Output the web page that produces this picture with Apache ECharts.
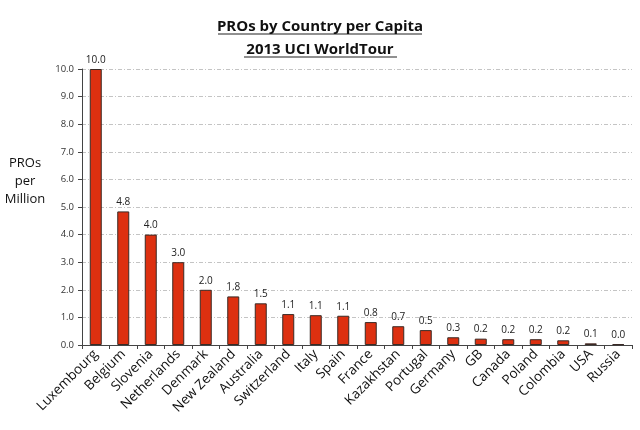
<!DOCTYPE html>
<html>
<head>
<meta charset="utf-8">
<script src="https://cdn.jsdelivr.net/npm/echarts@6/dist/echarts.min.js"></script>
<style>
  html, body { margin: 0; padding: 0; background: #fff; }
  #main { width: 640px; height: 430px; }
</style>
</head>
<body>
<div id="main"></div>
<script>
// countries, sorted by pros per million
const countries = ['Luxembourg', 'Belgium', 'Slovenia', 'Netherlands', 'Denmark', 'New Zealand',
  'Australia', 'Switzerland', 'Italy', 'Spain', 'France', 'Kazakhstan', 'Portugal', 'Germany',
  'GB', 'Canada', 'Poland', 'Colombia', 'USA', 'Russia'];
const prosPerMillion = [10.0, 4.84, 4.0, 3.0, 2.0, 1.76, 1.51, 1.12, 1.08, 1.06, 0.83, 0.68,
  0.54, 0.28, 0.23, 0.21, 0.21, 0.17, 0.06, 0.03];
const yTicks = { min: 0, max: 10, interval: 1 };

const font = '"Open Sans", "Liberation Sans", sans-serif';

let option = {
  animation: false,
  backgroundColor: '#fff',
  title: {
    text: 'PROs by Country per Capita\n2013 UCI WorldTour',
    left: 'center',
    top: 10,
    textStyle: {
      fontFamily: font,
      fontSize: 15,
      fontWeight: 'bold',
      color: '#111',
      lineHeight: 23
    }
  },
  graphic: [
    { type: 'line', shape: { x1: 218, y1: 34, x2: 422, y2: 34 }, style: { stroke: '#222', lineWidth: 1.2 } },
    { type: 'line', shape: { x1: 244, y1: 57, x2: 397, y2: 57 }, style: { stroke: '#222', lineWidth: 1.2 } },
    {
      type: 'text', x: 25, y: 154,
      style: { text: 'PROs\nper\nMillion', fontFamily: font, fontSize: 13, fill: '#111',
        align: 'center', lineHeight: 18 }
    }
  ],
  grid: { left: 82, right: 8, top: 69, bottom: 85 },
  xAxis: {
    type: 'category',
    data: countries,
    axisLine: { lineStyle: { color: '#444' } },
    axisTick: { show: true, alignWithLabel: false, length: 4, lineStyle: { color: '#444' } },
    axisLabel: {
      interval: 0,
      rotate: 45,
      margin: 7,
      fontFamily: font,
      fontSize: 13.5,
      color: '#111'
    }
  },
  yAxis: {
    type: 'value',
    min: yTicks.min,
    max: yTicks.max,
    interval: yTicks.interval,
    axisLine: { show: true, lineStyle: { color: '#444' } },
    axisTick: { show: true, length: 4, lineStyle: { color: '#444' } },
    axisLabel: {
      fontFamily: font,
      fontSize: 9.5,
      color: '#333',
      formatter: v => v.toFixed(1)
    },
    splitLine: {
      lineStyle: { color: '#c4c4c4', type: [4, 2, 1, 2], width: 1 }
    }
  },
  series: [{
    type: 'bar',
    data: prosPerMillion,
    barWidth: 12,
    itemStyle: {
      color: '#dd3010',
      borderColor: '#3a2a25',
      borderWidth: 1
    },
    label: {
      show: true,
      position: 'top',
      distance: 4,
      fontFamily: font,
      fontSize: 10,
      color: '#222',
      formatter: p => p.value.toFixed(1)
    }
  }]
};

let myChart = echarts.init(document.getElementById('main'));
myChart.setOption(option);
</script>
</body>
</html>
